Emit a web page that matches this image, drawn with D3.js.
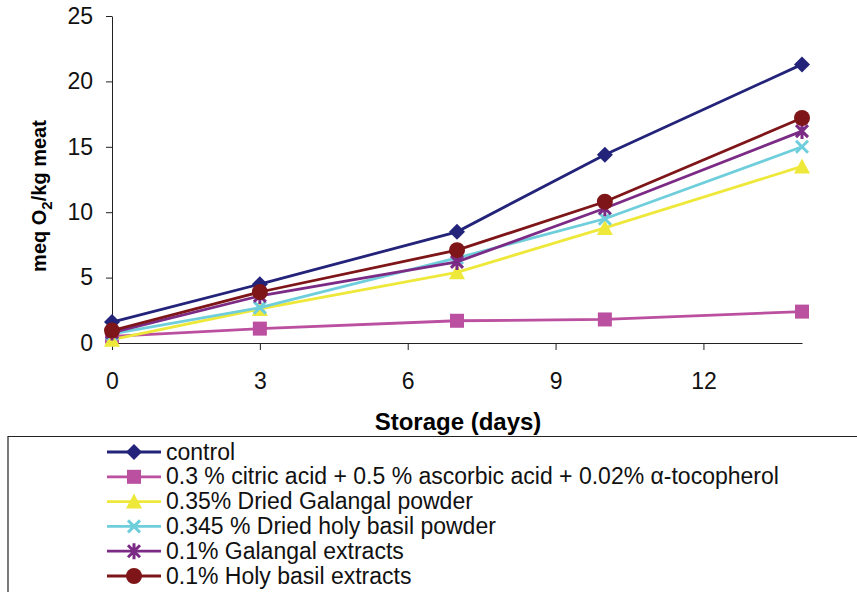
<!DOCTYPE html>
<html><head><meta charset="utf-8">
<script src="https://cdn.jsdelivr.net/npm/d3@7"></script>
<style>body{margin:0;background:#fff}svg{display:block}text{font-family:"Liberation Sans",Arial,sans-serif}</style>
</head><body>
<svg id="c" width="857" height="592"></svg>
<script>
const days = [0, 3, 7, 10, 14];
const seriesNames = [
  "control",
  "0.3 % citric acid + 0.5 % ascorbic acid + 0.02% \u03b1-tocopherol",
  "0.35% Dried Galangal powder",
  "0.345 % Dried holy basil powder",
  "0.1% Galangal extracts",
  "0.1% Holy basil extracts"
];
const control = [1.6, 4.5, 8.5, 14.4, 21.3];
const citric = [0.5, 1.1, 1.7, 1.8, 2.4];
const galangalPowder = [0.25, 2.6, 5.4, 8.8, 13.5];
const basilPowder = [0.7, 2.7, 6.5, 9.5, 15.0];
const galangalExtract = [0.8, 3.6, 6.2, 10.3, 16.2];
const basilExtract = [0.95, 3.9, 7.1, 10.8, 17.2];
const yTicks = [0, 5, 10, 15, 20, 25];
const xTicks = [0, 3, 6, 9, 12];

const colors = ["#23237a", "#bb4fa0", "#eee83a", "#6fcedb", "#7b2b85", "#7e1518"];
const shapes = ["diamond", "square", "triangle", "x", "star", "circle"];
const allValues = [control, citric, galangalPowder, basilPowder, galangalExtract, basilExtract];

const svg = d3.select("#c");
const x = d3.scaleLinear().domain([0, 14]).range([112, 802]);
const y = d3.scaleLinear().domain([0, 25]).range([343, 16]);

// axes
const yAxis = d3.axisLeft(y).tickValues(yTicks).tickSize(6).tickPadding(13).tickSizeOuter(0);
const gy = svg.append("g").attr("transform", "translate(112,0)").call(yAxis);
gy.selectAll("text").attr("font-size", 23).attr("fill", "#111");
gy.select(".domain").attr("stroke", "#222");
gy.selectAll(".tick line").attr("stroke", "#222");

const xAxis = d3.axisBottom(x).tickValues(xTicks).tickSize(7).tickPadding(23).tickSizeOuter(0);
const gx = svg.append("g").attr("transform", "translate(0,343)").call(xAxis);
gx.selectAll("text").attr("font-size", 23).attr("fill", "#111");
gx.select(".domain").attr("stroke", "#222");
gx.selectAll(".tick line").attr("stroke", "#222");

// axis titles
svg.append("text").attr("x", 458).attr("y", 430).attr("text-anchor", "middle")
  .attr("font-size", 24).attr("font-weight", "bold").text("Storage (days)");
const yl = svg.append("text").attr("transform", "translate(46,196) rotate(-90)")
  .attr("text-anchor", "middle").attr("font-size", 20).attr("font-weight", "bold");
yl.append("tspan").text("meq O");
yl.append("tspan").attr("font-size", 15).attr("dy", 6).text("2");
yl.append("tspan").attr("dy", -6).text("/kg meat");

function marker(g, shape, color, cx, cy) {
  const s = g.append("g").attr("transform", `translate(${cx},${cy})`);
  switch (shape) {
    case "diamond": s.append("path").attr("d", "M0,-8L8,0L0,8L-8,0Z").attr("fill", color); break;
    case "square": s.append("rect").attr("x", -7).attr("y", -7).attr("width", 14).attr("height", 14).attr("fill", color); break;
    case "triangle": s.append("path").attr("d", "M0,-8L8,7L-8,7Z").attr("fill", color); break;
    case "circle": s.append("circle").attr("r", 8).attr("fill", color); break;
    case "x": s.append("path").attr("d", "M-6,-6L6,6M-6,6L6,-6").attr("stroke", color).attr("stroke-width", 3).attr("fill", "none"); break;
    case "star": s.append("path").attr("d", "M-6,-6L6,6M-6,6L6,-6M0,-8L0,8").attr("stroke", color).attr("stroke-width", 3).attr("fill", "none"); break;
  }
}

const line = d3.line().x((d, i) => x(days[i])).y(d => y(d));
allValues.forEach((vals, k) => {
  const g = svg.append("g");
  g.append("path").attr("d", line(vals)).attr("fill", "none").attr("stroke", colors[k]).attr("stroke-width", 2.8);
  vals.forEach((v, i) => marker(g, shapes[k], colors[k], x(days[i]), y(v)));
});

// legend
svg.append("path").attr("d", "M8,592L8,436.5L857,436.5").attr("fill", "none").attr("stroke", "#222").attr("stroke-width", 1.2);
seriesNames.forEach((name, k) => {
  const cy = 452 + k * 24.8;
  const g = svg.append("g");
  g.append("line").attr("x1", 107).attr("x2", 161).attr("y1", cy).attr("y2", cy).attr("stroke", colors[k]).attr("stroke-width", 2.8);
  marker(g, shapes[k], colors[k], 134, cy);
  g.append("text").attr("x", 166).attr("y", cy + 7.5).attr("font-size", 23).attr("fill", "#111").text(name);
});
</script>
</body></html>
